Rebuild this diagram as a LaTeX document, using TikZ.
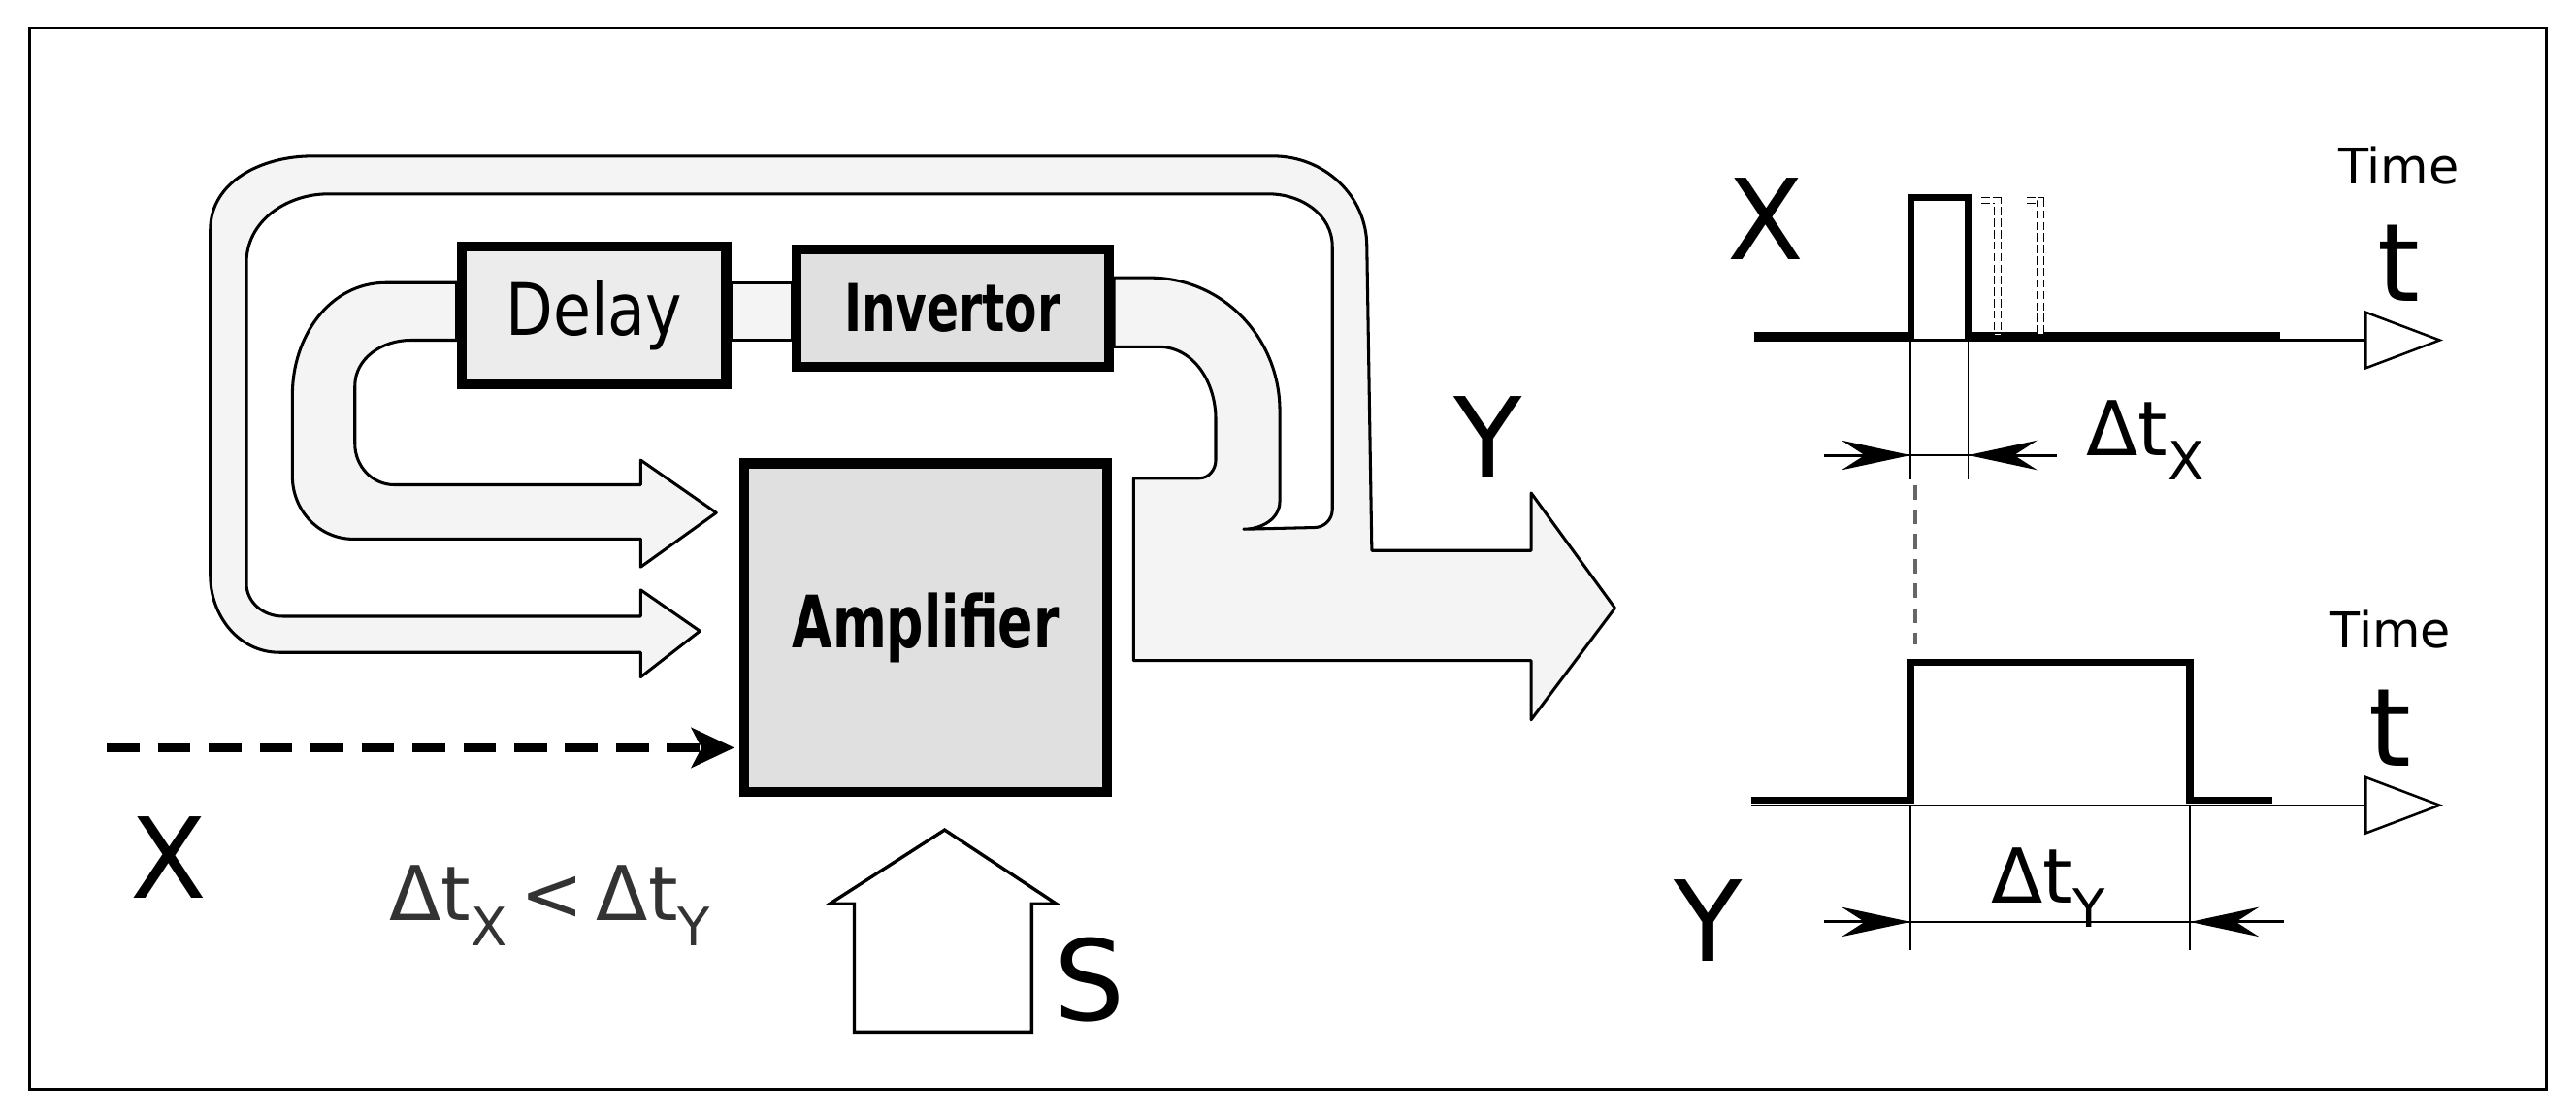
\documentclass[tikz,border=0pt]{standalone}
\usepackage{fontspec}
\setmainfont{DejaVu Sans}
\usetikzlibrary{arrows.meta}
\definecolor{band}{HTML}{F4F4F4}
\definecolor{boxa}{HTML}{ECECEC}
\definecolor{boxb}{HTML}{E0E0E0}
\begin{document}
\begin{tikzpicture}[x=1pt,y=-1pt,
  band/.style={fill=band,draw=black,line width=1.8pt,line join=round},
  blk/.style={draw=black,line width=6pt,anchor=center},
  dim/.style={line width=1pt},
  dimtip/.style={-{Stealth[length=42pt,width=18pt,inset=14pt]},line width=1.8pt},
  lbl/.style={font=\fontsize{68}{68}\selectfont,inner sep=0pt},
  big/.style={font=\fontsize{66}{66}\selectfont,inner sep=0pt},
  tm/.style={font=\fontsize{30}{30}\selectfont,inner sep=0pt},
  dt/.style={font=\fontsize{46}{46}\selectfont,inner sep=0pt}]
\useasboundingbox (0,0) rectangle (1568,680.4);
\draw[line width=1.5pt] (18,17) rectangle (1550,663);
% outer loop + output arrow
\draw[band] (390,397) -- (170,397) to[out=180,in=-90] (128,350) -- (128,140) to[out=90,in=180] (190,95) -- (775,95) to[out=0,in=90] (832,150) -- (835,335) -- (932,335) -- (932,300) -- (983,370) -- (932,438) -- (932,402) -- (690,402) -- (690,291) -- (730,291) to[out=0,in=-90] (740,280) -- (740,255) to[out=90,in=0] (705,211) -- (678,211) -- (678,169) -- (700,169) to[out=0,in=90] (779,250) -- (779,305) to[out=-90,in=0] (757,322) -- (800,321) to[out=0,in=-90] (811,310) -- (811,150) to[out=90,in=0] (772,118) -- (200,118) to[out=180,in=90] (150,160) -- (150,355) to[out=-90,in=180] (172,375) -- (390,375) -- (390,359) -- (426,384) -- (390,412) -- cycle;
% inner loop
\draw[band] (278,172) -- (235,172) to[out=180,in=90] (178,240) -- (178,290) to[out=-90,in=180] (215,328) -- (390,328) -- (390,345) -- (436,312) -- (390,280) -- (390,295) -- (240,295) to[out=180,in=-90] (216,270) -- (216,235) to[out=90,in=180] (250,207) -- (278,207) -- cycle;
% channel between blocks
\fill[band] (445,172) rectangle (482,207);
\draw[line width=1.8pt] (445,172) -- (482,172) (445,207) -- (482,207);
% blocks
\node[blk,fill=boxa,minimum width=161pt,minimum height=84pt] (delay) at (361.5,192) {\scalebox{0.85}[1]{\fontsize{44}{44}\selectfont Delay}};
\node[blk,fill=boxb,minimum width=190pt,minimum height=71pt] (inv) at (580,187.5) {\scalebox{0.72}[1]{\fontsize{40}{40}\selectfont\bfseries Invertor}};
\node[blk,fill=boxb,minimum width=221pt,minimum height=200pt] (amp) at (563.5,382) {\scalebox{0.72}[1]{\fontsize{44}{44}\selectfont\bfseries Amplifier}};
% X input
\coordinate (xin) at (65,455);
\draw[line width=5pt,dash pattern=on 20pt off 11pt,-{Stealth[length=26pt,width=24pt,inset=6pt]}] (xin) -- ([xshift=-3pt]amp.west |- xin);
\node[lbl] (xl) at (103,522) {X};
\node[dt,text=black!80] (cmp) at (335,551) {Δt\textsubscript{X}\,<\,Δt\textsubscript{Y}};
% S arrow
\draw[line width=2pt,fill=white] (520,628) -- (520,550) -- (505,550) -- (575,505) -- (643,550) -- (628,550) -- (628,628) -- cycle;
\node[lbl] (sl) at (663,596) {S};
\node[lbl] (yl) at (906,266) {Y};
% ---- timing X
\node[lbl] (xt) at (1075,133) {X};
\node[tm] (time1) at (1460,101) {Time};
\node[big] (t1) at (1460,160) {t};
\draw[line width=1.2pt] (1068,207) -- (1440,207);
\draw[line width=1.5pt,fill=white] (1440,190) -- (1485,207) -- (1440,224) -- cycle;
\draw[line width=4pt,line join=miter] (1068,204) -- (1163,204) -- (1163,120) -- (1198,120) -- (1198,204) -- (1388,204);
\draw[line width=0.6pt,dash pattern=on 5pt off 2pt,double,double distance=3pt] (1206,122) -- (1216,122) -- (1216,204);
\draw[line width=0.6pt,dash pattern=on 5pt off 2pt,double,double distance=3pt] (1234,122) -- (1242,122) -- (1242,204);
\draw[dim] (1163,207) -- (1163,292) (1198,207) -- (1198,292);
\draw[dim] (1112,277) -- (1250,277);
\coordinate (ax1) at (1110,277);
\coordinate (ax2) at (1252,277);
\draw[dimtip] (ax1) -- (1163,277);
\draw[dimtip] (ax2) -- (1198,277);
\node[dt] (dtx) at (1306,268) {Δt\textsubscript{X}};
\draw[line width=2.5pt,black!60,dash pattern=on 9pt off 6pt] (1166,295) -- (1166,392);
% ---- timing Y
\node[tm] (time2) at (1455,383) {Time};
\node[big] (t2) at (1455,443) {t};
\draw[line width=1.2pt] (1066,490) -- (1440,490);
\draw[line width=1.5pt,fill=white] (1440,473) -- (1485,490) -- (1440,507) -- cycle;
\draw[line width=4.5pt,line join=miter] (1066,487) -- (1163,487) -- (1163,403) -- (1333,403) -- (1333,487) -- (1383,487);
\draw[dim] (1163,490) -- (1163,578) (1333,490) -- (1333,578);
\draw[dim] (1112,561) -- (1388,561);
\coordinate (ay1) at (1110,561);
\coordinate (ay2) at (1390,561);
\draw[dimtip] (ay1) -- (1163,561);
\draw[dimtip] (ay2) -- (1333,561);
\node[dt] (dty) at (1247,540) {Δt\textsubscript{Y}};
\node[lbl] (yt) at (1040,560) {Y};
\end{tikzpicture}
\end{document}
